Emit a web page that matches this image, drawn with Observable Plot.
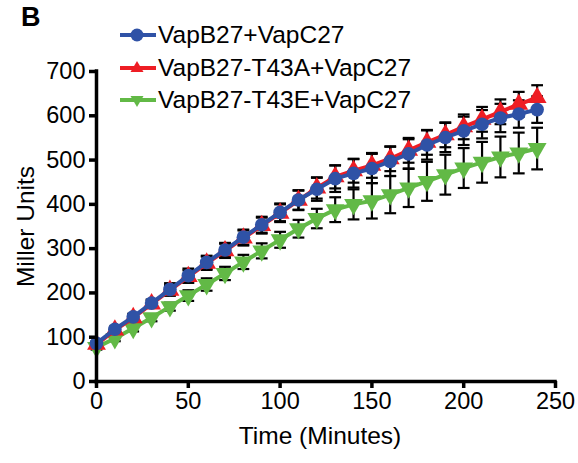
<!DOCTYPE html>
<html>
<head>
<meta charset="utf-8">
<script src="https://cdn.jsdelivr.net/npm/d3@7"></script>
<script src="https://cdn.jsdelivr.net/npm/@observablehq/plot@0.6"></script>
<style>
  html, body { margin: 0; padding: 0; background: #fff; }
  #wrap { position: relative; width: 578px; height: 463px; font-family: "Liberation Sans", Arial, sans-serif; }
  #panel { position: absolute; left: 21px; top: 2px; font-size: 27px; font-weight: bold; }
  .leg { position: absolute; left: 119px; display: flex; align-items: center; font-size: 24.5px; white-space: nowrap; }
  .leg svg { margin-right: 1px; }
</style>
</head>
<body>
<div id="wrap"></div>
<script>
const times = [0,10,20,30,40,50,60,70,80,90,100,110,120,130,140,150,160,170,180,190,200,210,220,230,240];
const seriesNames = ["VapB27+VapC27", "VapB27-T43A+VapC27", "VapB27-T43E+VapC27"];
const seriesColors = ["#2F52A6", "#EE1D24", "#62B946"];
const blueValues  = [86,118,146,177,208,239,269,297,326,354,382,410,434,458,470,481,497,514,534,551,566,581,595,604,614];
const blueErr     = [5,6,7,8,14,16,15,16,17,18,20,22,26,30,32,33,33,33,33,33,32,32,32,31,30];
const redValues   = [84,116,144,175,206,237,267,295,324,352,380,409,437,462,476,488,503,522,540,557,575,592,609,626,641];
const redErr      = [5,6,7,8,12,14,15,16,17,18,20,22,24,26,27,28,28,28,28,28,28,28,28,28,28];
const greenValues = [77,97,120,144,169,194,219,244,270,295,320,345,368,388,400,408,422,437,452,467,482,495,507,516,526];
const greenErr    = [5,6,7,8,9,12,14,15,16,17,18,20,22,28,34,40,42,43,44,45,45,46,46,46,47];
const xTicks = [0,50,100,150,200,250];
const yTicks = [0,100,200,300,400,500,600,700];

function rows(vals, errs) { return times.map((t, i) => ({t, v: vals[i], e: errs[i]})); }
const blue = rows(blueValues, blueErr);
const red = rows(redValues, redErr);
const green = rows(greenValues, greenErr);

const triDown = {
  draw(context, size) {
    const y = -Math.sqrt(size / (Math.sqrt(3) * 3));
    const s3 = Math.sqrt(3);
    context.moveTo(0, -y * 2);
    context.lineTo(-s3 * y, y);
    context.lineTo(s3 * y, y);
    context.closePath();
  }
};

const capHalf = 3.2;
function errMarks(data) {
  return [
    Plot.ruleX(data, {x: "t", y1: d => d.v - d.e, y2: d => d.v + d.e, stroke: "black", strokeWidth: 2.2}),
    Plot.link(data, {x1: d => d.t - capHalf, x2: d => d.t + capHalf, y1: d => d.v + d.e, y2: d => d.v + d.e, stroke: "black", strokeWidth: 2.2}),
    Plot.link(data, {x1: d => d.t - capHalf, x2: d => d.t + capHalf, y1: d => d.v - d.e, y2: d => d.v - d.e, stroke: "black", strokeWidth: 2.2})
  ];
}

const chart = Plot.plot({
  width: 578,
  height: 463,
  marginLeft: 96,
  marginRight: 23,
  marginTop: 71,
  marginBottom: 82,
  style: {fontFamily: "'Liberation Sans', Arial, sans-serif", fontSize: "23.5px", color: "black", background: "white"},
  x: {domain: [0, 250]},
  y: {domain: [0, 700]},
  marks: [
    ...errMarks(green),
    ...errMarks(red),
    ...errMarks(blue),
    Plot.line(green, {x: "t", y: "v", stroke: seriesColors[2], strokeWidth: 4}),
    Plot.dot(green, {x: "t", y: "v", fill: seriesColors[2], symbol: triDown, r: 7}),
    Plot.line(red, {x: "t", y: "v", stroke: seriesColors[1], strokeWidth: 4}),
    Plot.dot(red, {x: "t", y: "v", fill: seriesColors[1], symbol: "triangle", r: 7}),
    Plot.line(blue, {x: "t", y: "v", stroke: seriesColors[0], strokeWidth: 4}),
    Plot.dot(blue, {x: "t", y: "v", fill: seriesColors[0], symbol: "circle", r: 6.8}),
    Plot.ruleX([0], {stroke: "black", strokeWidth: 3.5, strokeLinecap: "square"}),
    Plot.ruleY([0], {stroke: "black", strokeWidth: 3.5, strokeLinecap: "square"}),
    Plot.axisX({ticks: xTicks, tickSize: 7, tickPadding: 4, strokeWidth: 3.5, fontSize: 23.5, label: null}),
    Plot.axisY({ticks: yTicks, tickSize: 7, tickPadding: 4, strokeWidth: 3.5, fontSize: 23.5, label: null, tickFormat: d3.format("d")}),
    Plot.text(["Time (Minutes)"], {frameAnchor: "bottom", dy: 62, dx: -6, fontSize: 24.5, fill: "black"}),
    Plot.text(["Miller Units"], {frameAnchor: "left", dx: -70, rotate: -90, textAnchor: "middle", fontSize: 24.5, fill: "black"})
  ]
});

const wrap = document.getElementById("wrap");
wrap.appendChild(chart);

const panel = document.createElement("div");
panel.id = "panel";
panel.textContent = "B";
wrap.appendChild(panel);

const legendTops = [21, 54, 86];
const legendSymbols = ["circle", "up", "down"];
seriesNames.forEach((name, i) => {
  const row = document.createElement("div");
  row.className = "leg";
  row.style.top = legendTops[i] + "px";
  const c = seriesColors[i];
  let sym;
  if (legendSymbols[i] === "circle") sym = `<circle cx="18" cy="14" r="6.5" fill="${c}"/>`;
  else if (legendSymbols[i] === "up") sym = `<path d="M18,7 L24.5,18 L11.5,18 Z" fill="${c}"/>`;
  else sym = `<path d="M18,21 L24.5,10 L11.5,10 Z" fill="${c}"/>`;
  row.innerHTML = `<svg width="38" height="28"><line x1="1" y1="14" x2="37" y2="14" stroke="${c}" stroke-width="4"/>${sym}</svg><span>${name}</span>`;
  wrap.appendChild(row);
});
</script>
</body>
</html>
